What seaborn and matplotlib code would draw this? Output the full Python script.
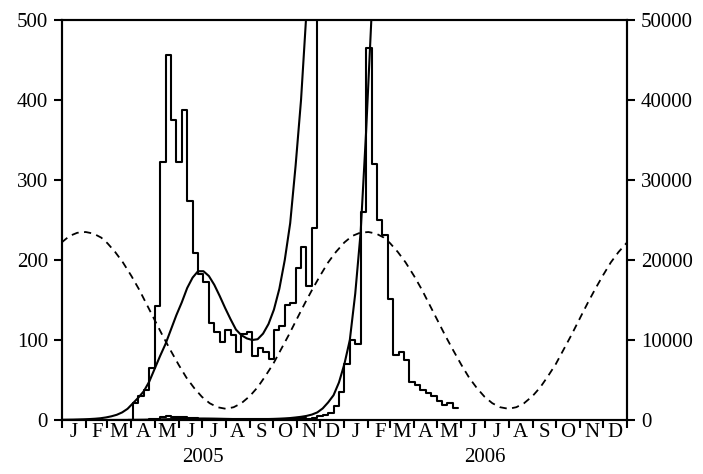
import pandas as pd
import matplotlib
matplotlib.use("Agg")
import matplotlib.pyplot as plt
import matplotlib.dates as mdates
from matplotlib.ticker import MultipleLocator, NullFormatter, FuncFormatter
import seaborn as sns

# weekly reported cases, first week starting 2005-04-03
weekly_cases = [21, 30, 38, 65, 142, 322, 456, 375, 322, 387,
                274, 209, 183, 173, 121, 110, 98, 112, 106, 85,
                108, 110, 80, 90, 85, 76, 112, 117, 144, 146,
                190, 216, 167, 240, 550, 650, 900, 1800, 3500, 7000,
                10000, 9500, 26000, 46500, 32000, 25000, 23100, 15100, 8100, 8500,
                7500, 4800, 4400, 3800, 3400, 3000, 2400, 1900, 2100, 1500]

# model curve, weekly from 2005-01-02
model_cases = [0.3, 0.4, 0.5, 0.7, 0.9, 1.2, 1.6, 2.2, 3.2, 4.6,
               6.5, 9.5, 14, 21, 28, 36, 48, 64, 80, 95,
               113, 131, 147, 165, 178, 186, 186, 180, 169, 155,
               140, 126, 113, 106, 102, 100, 101, 108, 120, 138,
               164, 200, 246, 318, 400, 510, 680, 950, 1450, 2200,
               3100, 4700, 7000, 10000, 15800, 23500, 36000, 50500]

# seasonal curve, read on the 1st, 11th and 21st of every month
seasonal_2005 = [222, 230, 234, 235, 233, 228, 221, 210, 197, 180, 163, 144,
                 125, 106, 88, 69, 53, 40, 29, 21, 16, 14, 16, 21,
                 30, 41, 55, 70, 88, 106, 127, 146, 164, 181, 197, 210]
seasonal_2006 = [222, 230, 234, 235, 233, 228, 221, 210, 197, 180, 163, 144,
                 125, 106, 88, 69, 53, 40, 29, 21, 16, 14, 16, 21,
                 30, 41, 55, 70, 88, 106, 127, 146, 164, 181, 197, 210]
seasonal_end = [222]

month_letters = ["J", "F", "M", "A", "M", "J", "J", "A", "S", "O", "N", "D"]
year_labels = ["2005", "2006"]

case_dates = pd.date_range("2005-04-03", periods=len(weekly_cases), freq="7D")
model_dates = pd.date_range("2005-01-02", periods=len(model_cases), freq="7D")
seasonal_dates = pd.to_datetime([f"{y}-{m:02d}-{d:02d}" for y in (2005, 2006)
                                 for m in range(1, 13) for d in (1, 11, 21)]
                                + ["2007-01-01"])
seasonal = seasonal_2005 + seasonal_2006 + seasonal_end

week = pd.Timedelta(days=7)
step_x = [case_dates[0] - week] + list(case_dates) + [case_dates[-1] + week]
step_y = [0] + weekly_cases + [weekly_cases[-1]]
steps = pd.DataFrame({"date": step_x, "cases": step_y})
steps["scaled"] = steps["cases"]

sns.set_style("ticks")
plt.rcParams["font.family"] = ["Liberation Serif", "DejaVu Serif"]
plt.rcParams["axes.edgecolor"] = "black"
plt.rcParams["text.color"] = "black"
plt.rcParams["xtick.color"] = "black"
plt.rcParams["ytick.color"] = "black"

fig = plt.figure(figsize=(7.03, 4.74), dpi=100)
ax = fig.add_axes([0.0878, 0.1139, 0.8042, 0.8439])
ax2 = ax.twinx()

lw = 1.5
# left axis (0-500)
sns.lineplot(data=steps, x="date", y="cases", drawstyle="steps-post",
             color="black", lw=lw, ax=ax)
sns.lineplot(x=model_dates, y=model_cases, color="black", lw=lw, ax=ax)
sns.lineplot(x=seasonal_dates, y=seasonal, color="black", lw=1.3,
             linestyle=(0, (4, 3)), ax=ax)
# right axis (0-50000)
sns.lineplot(data=steps, x="date", y="scaled", drawstyle="steps-post",
             color="black", lw=lw, ax=ax2)
sns.lineplot(x=model_dates, y=model_cases, color="black", lw=lw, ax=ax2)

ax.set_xlim(pd.Timestamp("2005-01-01"), pd.Timestamp("2007-01-01"))
ax.set_ylim(0, 500)
ax2.set_ylim(0, 50000)
ax.yaxis.set_major_locator(MultipleLocator(100))
ax2.yaxis.set_major_locator(MultipleLocator(10000))
for a in (ax, ax2):
    a.set_xlabel("")
    a.set_ylabel("")
    for s in a.spines.values():
        s.set_visible(True)
        s.set_linewidth(1.5)
        s.set_color("black")

ax.tick_params(axis="y", direction="out", length=6, width=1.5, labelsize=15, pad=4)
ax2.tick_params(axis="y", direction="out", length=6, width=1.5, labelsize=15, pad=4)

ax.xaxis.set_major_locator(mdates.MonthLocator())
ax.xaxis.set_major_formatter(NullFormatter())
ax.xaxis.set_minor_locator(mdates.MonthLocator(bymonthday=16))
ax.xaxis.set_minor_formatter(FuncFormatter(
    lambda v, pos: month_letters[mdates.num2date(v).month - 1]))
ax.tick_params(axis="x", which="major", direction="out", length=6, width=1.5)
ax.tick_params(axis="x", which="minor", length=0, labelsize=15, pad=2)

for i, label in enumerate(year_labels):
    ax.text(pd.Timestamp(f"{2005 + i}-07-02"), -0.07, label,
            transform=ax.get_xaxis_transform(), ha="center", va="top", fontsize=15)

fig.savefig("out.png", dpi=100)
